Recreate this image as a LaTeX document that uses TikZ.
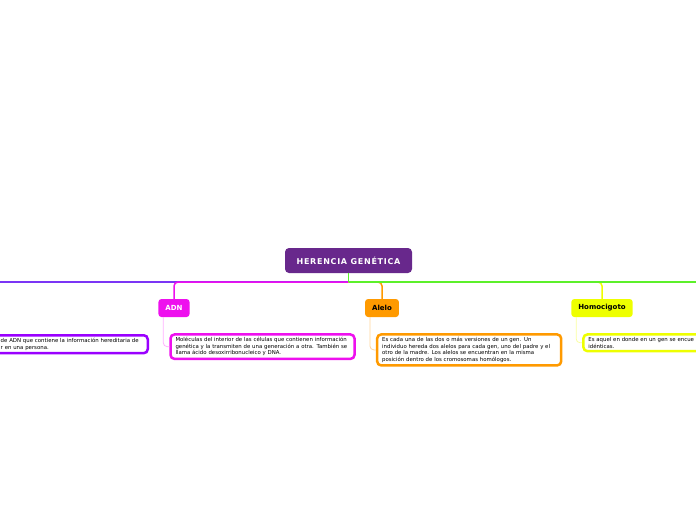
\documentclass[tikz,border=0pt]{standalone}
\usepackage{fontspec}
\setmainfont{DejaVu Sans}
\usetikzlibrary{positioning}

\definecolor{rootpurple}{HTML}{68288C}
\definecolor{genviolet}{HTML}{7B35F5}
\definecolor{genborder}{HTML}{9A00FF}
\definecolor{adnpink}{HTML}{EE10EE}
\definecolor{adnpale}{HTML}{FFB0FF}
\definecolor{aleloorange}{HTML}{FF9A00}
\definecolor{alelopale}{HTML}{FFD49A}
\definecolor{homoyellow}{HTML}{EEFF00}
\definecolor{homopale}{HTML}{FAFFA0}
\definecolor{linegreen}{HTML}{5CF02A}

\begin{document}
\begin{tikzpicture}[x=1pt, y=-1pt,
        topic/.style={rectangle, rounded corners=4pt, fill=rootpurple, text=white,
                  font=\bfseries\fontsize{8}{9}\selectfont\addfontfeature{LetterSpace=9},
                  minimum width=127pt, minimum height=25pt, inner sep=0pt},
        sub/.style={rectangle, rounded corners=3pt, inner xsep=7pt, inner ysep=0pt,
                  font=\bfseries\fontsize{7}{8}\selectfont, minimum height=18pt},
        note/.style={rectangle, rounded corners=4pt, draw, line width=2.5pt, fill=white,
                  align=left, font=\fontsize{5.4}{6.5}\selectfont, inner xsep=5pt,
                  inner ysep=3pt, anchor=north west},
        link/.style={line width=1.5pt, rounded corners=4pt},
        twig/.style={line width=0.8pt, rounded corners=4pt},
        node distance=16pt and 11pt]
      \useasboundingbox (0,0) rectangle (696,520);
      \clip (0,0) rectangle (696,520);

      % main topic and its three subtopics
      \node[topic] (root) at (348.5,260.5) {HERENCIA GENÉTICA};
      \coordinate (hub) at (348.5,282);
      \coordinate (genend) at (-10,282);
      \coordinate (greenend) at (710,282);
      \node[sub, fill=adnpink, text=white] (adn) at (174,308) {ADN};
      \node[sub, fill=aleloorange] (alelo) at (382,308) {Alelo};
      \node[sub, fill=homoyellow] (homo) at (602,308) {Homocigoto};

      % notes
      \node[note, draw=genborder, text width=142pt, anchor=north east] (gen) at (149,334)
        {de ADN que contiene la información hereditaria de\\r en una persona.};
      \node[note, draw=adnpink, text width=174pt, below right=of adn.south west] (adnnote)
        {Moléculas del interior de las células que contienen información\\
         genética y la transmiten de una generación a otra. También se\\
         llama ácido desoxirribonucleico y DNA.};
      \node[note, draw=aleloorange, text width=174pt, below right=of alelo.south west] (alelonote)
        {Es cada una de las dos o más versiones de un gen. Un\\
         individuo hereda dos alelos para cada gen, uno del padre y el\\
         otro de la madre. Los alelos se encuentran en la misma\\
         posición dentro de los cromosomas homólogos.};
      \node[note, draw=homoyellow, text width=130pt, below right=of homo.south west] (homonote)
        {Es aquel en donde en un gen se encue\\idénticas.};

      % connectors
      \draw[link, genviolet] (hub) -- (genend);
      \draw[link, adnpink] (hub) -| (adn.north);
      \draw[link, aleloorange] (hub) -| (alelo.north);
      \draw[link, homoyellow] (hub) -| (homo.north);
      \draw[link, linegreen] (hub) -- (greenend);
      \draw[line width=1pt, linegreen] (root.south) -- (hub);
      \draw[twig, adnpale] ([xshift=5pt]adn.south west) |- (adnnote.west);
      \draw[twig, alelopale] ([xshift=5pt]alelo.south west) |- (alelonote.west);
      \draw[twig, homopale] ([xshift=5pt]homo.south west) |- (homonote.west);
    \end{tikzpicture}
\end{document}
